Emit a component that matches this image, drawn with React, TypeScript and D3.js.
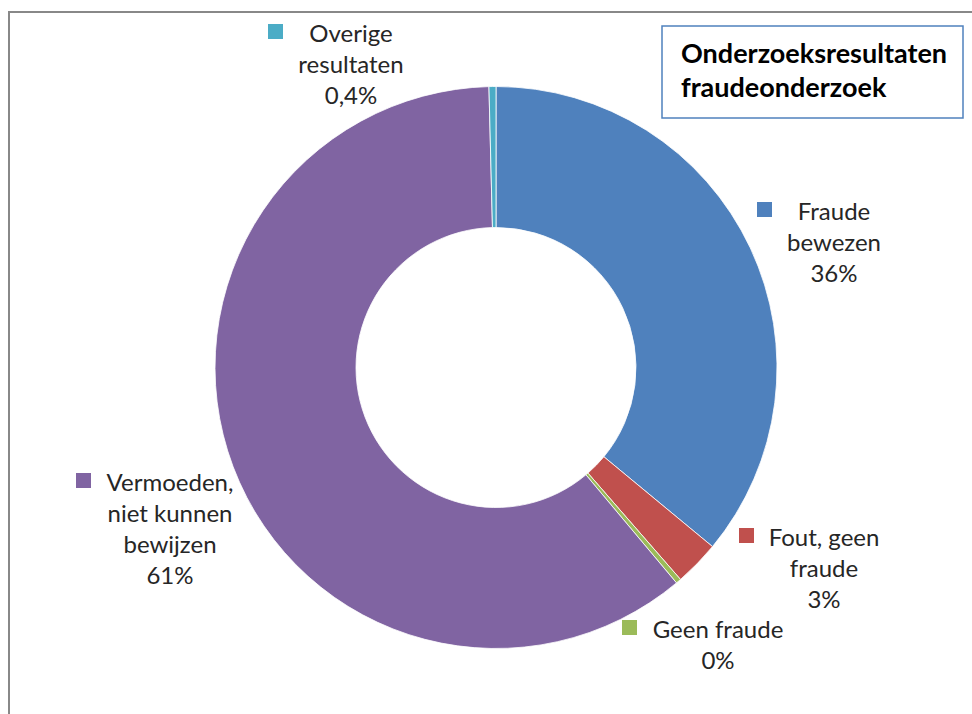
import React from "react";
import * as d3 from "d3";

const categories = ["Fraude bewezen", "Fout, geen fraude", "Geen fraude", "Vermoeden, niet kunnen bewijzen", "Overige resultaten"];
const values = [36.0, 2.6, 0.3, 60.7, 0.4];
const percentLabels = ["36%", "3%", "0%", "61%", "0,4%"];
const labelLines = [["Fraude", "bewezen"], ["Fout, geen", "fraude"], ["Geen fraude"], ["Vermoeden,", "niet kunnen", "bewijzen"], ["Overige", "resultaten"]];
const colors = ["#4f81bd", "#c0504d", "#9bbb59", "#8064a2", "#4bacc6"];

// label placement (text centre x, first baseline y, marker x)
const labelPos = [
  { cx: 834, y: 220, mx: 757 },
  { cx: 824, y: 546, mx: 739 },
  { cx: 718, y: 638, mx: 622 },
  { cx: 170, y: 491, mx: 76 },
  { cx: 351, y: 42, mx: 268 },
];

const W = 972;
const H = 714;
const cx = 496;
const cy = 367.5;
const outerR = 281;
const innerR = 140;
const lineH = 31;
const font = "Lato, 'Open Sans', sans-serif";

export default function App() {
  const pie = d3.pie<number>().sort(null).value((d) => d);
  const arcs = pie(values);
  const arc = d3.arc<d3.PieArcDatum<number>>().innerRadius(innerR).outerRadius(outerR);

  return (
    <svg width={W} height={H} style={{ position: "absolute", left: 0, top: 0, background: "#fff" }} fontFamily={font}>
      <rect x={9} y={12} width={W} height={H} fill="#fff" stroke="#888" strokeWidth={2} />
      <g transform={`translate(${cx},${cy})`}>
        {arcs.map((a, i) => (
          <path key={i} d={arc(a) || ""} fill={colors[i]} stroke="#fff" strokeWidth={0.8} />
        ))}
      </g>
      {categories.map((c, i) => {
        const p = labelPos[i];
        const lines = [...labelLines[i], percentLabels[i]];
        return (
          <g key={c}>
            <rect x={p.mx} y={p.y - 18} width={15} height={15} fill={colors[i]} />
            <text textAnchor="middle" fontSize={24} fill="#262626">
              {lines.map((l, j) => (
                <tspan key={j} x={p.cx} y={p.y + j * lineH}>{l}</tspan>
              ))}
            </text>
          </g>
        );
      })}
      <rect x={662} y={26} width={301} height={92} fill="#fff" stroke="#4f81bd" strokeWidth={1.5} />
      <text fontSize={27} fontWeight="bold" fill="#000">
        <tspan x={681} y={63}>Onderzoeksresultaten</tspan>
        <tspan x={681} y={97}>fraudeonderzoek</tspan>
      </text>
    </svg>
  );
}
